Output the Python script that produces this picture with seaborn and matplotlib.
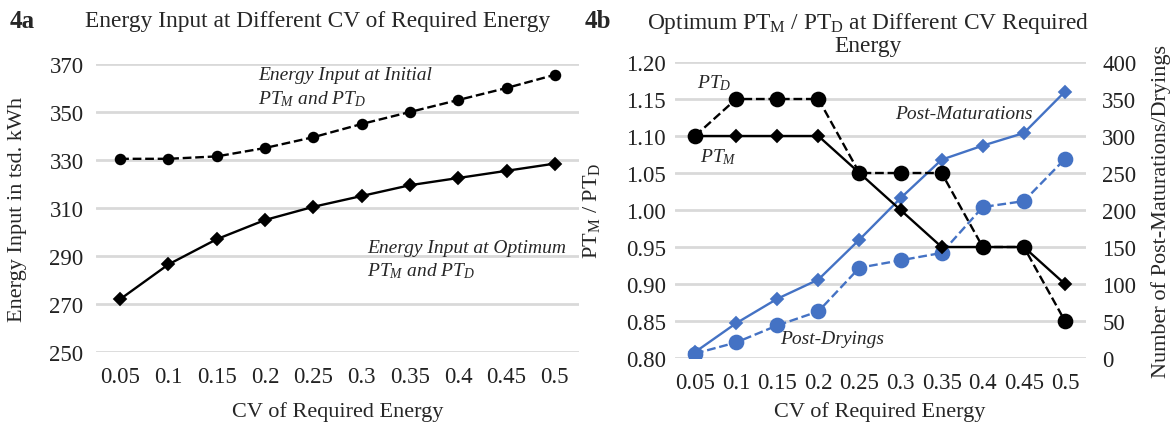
import numpy as np
import pandas as pd
import matplotlib
matplotlib.use("Agg")
import matplotlib.pyplot as plt
import seaborn as sns

cv_labels = ["0.05", "0.1", "0.15", "0.2", "0.25", "0.3", "0.35", "0.4", "0.45", "0.5"]
energy_initial = [330.5, 330.5, 331.5, 335.0, 339.5, 345.0, 350.0, 355.0, 360.0, 365.5]
energy_optimum = [272.0, 286.5, 297.0, 305.0, 310.5, 315.0, 319.5, 322.5, 325.5, 328.5]
pt_m = [1.10, 1.10, 1.10, 1.10, 1.05, 1.00, 0.95, 0.95, 0.95, 0.90]
pt_d = [1.10, 1.15, 1.15, 1.15, 1.05, 1.05, 1.05, 0.95, 0.95, 0.85]
post_maturations = [8, 47, 80, 106, 160, 216, 268, 287, 304, 360]
post_dryings = [6, 21, 44, 63, 122, 132, 142, 204, 212, 269]

sns.set_theme(style="white")
plt.rcParams["font.family"] = ["Liberation Serif", "DejaVu Serif"]
plt.rcParams["mathtext.fontset"] = "custom"
plt.rcParams["mathtext.rm"] = "Liberation Serif"
plt.rcParams["mathtext.it"] = "Liberation Serif:italic"
plt.rcParams["mathtext.bf"] = "Liberation Serif:bold"

BLUE = "#4472C4"
GRID = "#d9d9d9"
TICK_FS = 16.5
LBL_FS = 16
TITLE_FS = 16.8
ANN_FS = 14

fig = plt.figure(figsize=(11.73, 4.27), dpi=100)
W, H = 1173, 427
def rect(x0, x1, ytop, ybot):
    return [x0 / W, 1 - ybot / H, (x1 - x0) / W, (ybot - ytop) / H]

ax1 = fig.add_axes(rect(96, 579, 65, 353))
ax2 = fig.add_axes(rect(674.5, 1085.5, 63, 359))
ax3 = ax2.twinx()

df_a = pd.DataFrame({"cv": cv_labels, "initial": energy_initial, "optimum": energy_optimum})
sns.pointplot(data=df_a, x="cv", y="initial", ax=ax1, color="black", markers="o",
              linestyles="--", markersize=7, linewidth=1.7, zorder=3)
sns.pointplot(data=df_a, x="cv", y="optimum", ax=ax1, color="black", markers="D",
              linestyles="-", markersize=6.5, linewidth=1.7, zorder=3)

df_b = pd.DataFrame({"cv": cv_labels, "ptm": pt_m, "ptd": pt_d,
                     "pm": post_maturations, "pd": post_dryings})
sns.pointplot(data=df_b, x="cv", y="pm", ax=ax3, color=BLUE, markers="D",
              linestyles="-", markersize=6.5, linewidth=1.7)
sns.pointplot(data=df_b, x="cv", y="pd", ax=ax3, color=BLUE, markers="o",
              linestyles="--", markersize=10, linewidth=1.7)
sns.pointplot(data=df_b, x="cv", y="ptm", ax=ax2, color="black", markers="D",
              linestyles="-", markersize=6.5, linewidth=1.7)
sns.pointplot(data=df_b, x="cv", y="ptd", ax=ax2, color="black", markers="o",
              linestyles="--", markersize=10, linewidth=1.7)
ax2.set_zorder(ax3.get_zorder() + 1)
ax2.patch.set_visible(False)

for ax in (ax1, ax2, ax3):
    for s in ax.spines.values():
        s.set_visible(False)
    ax.tick_params(axis="both", length=0, labelsize=TICK_FS, colors="#222222")
    ax.set_xlim(-0.5, 9.5)

ax1.set_ylim(250, 370)
ax1.set_yticks(np.arange(250, 371, 20))
ax1.yaxis.grid(True, color=GRID, linewidth=2)
ax1.set_axisbelow(True)
ax1.tick_params(axis="x", pad=10)
ax1.tick_params(axis="y", pad=9)
ax1.set_xlabel("CV of Required Energy", fontsize=LBL_FS)
ax1.xaxis.set_label_coords(0.5, (353 - 402) / 288, transform=ax1.transAxes)
ax1.set_ylabel("Energy Input in tsd. kWh", fontsize=LBL_FS)
ax1.yaxis.set_label_coords((27 - 96) / 483, 0.5, transform=ax1.transAxes)

yt = np.arange(0.80, 1.201, 0.05)
ax2.set_ylim(0.80, 1.20)
ax2.set_yticks(yt)
ax2.set_yticklabels([f"{v:.2f}" for v in yt])
ax3.set_ylim(0, 400)
ax3.set_yticks(np.arange(0, 401, 50))
ax3.yaxis.grid(True, color=GRID, linewidth=2)
ax2.yaxis.grid(False)
ax2.tick_params(axis="x", pad=10)
ax2.tick_params(axis="y", pad=6)
ax3.tick_params(axis="y", pad=12)
ax2.set_xlabel("CV of Required Energy", fontsize=LBL_FS)
ax2.xaxis.set_label_coords(0.5, (359 - 402) / 296, transform=ax2.transAxes)
ax3.set_xlabel("")
ax2.set_ylabel(r"PT$_\mathrm{M}$ / PT$_\mathrm{D}$", fontsize=LBL_FS)
ax2.yaxis.set_label_coords((602 - 674.5) / 411, 0.5, transform=ax2.transAxes)
ax3.set_ylabel("Number of Post-Maturations/Dryings", fontsize=LBL_FS)
ax3.yaxis.set_label_coords((1151 - 674.5) / 411, 0.5, transform=ax3.transAxes)

ax1.text(2.85, 369.0, "Energy Input at Initial\n$PT_M$ and $PT_D$", fontsize=ANN_FS,
         style="italic", ha="left", va="top", linespacing=1.3)
ax1.text(5.11, 297.0, "Energy Input at Optimum\n$PT_M$ and $PT_D$", fontsize=ANN_FS,
         style="italic", ha="left", va="top", linespacing=1.3)

ax2.text(0.04, 1.173, "$PT_D$", fontsize=ANN_FS, ha="left", va="center")
ax2.text(0.12, 1.073, "$PT_M$", fontsize=ANN_FS, ha="left", va="center")
ax2.text(4.86, 1.131, "Post-Maturations", fontsize=ANN_FS, style="italic", ha="left", va="center")
ax2.text(2.07, 0.827, "Post-Dryings", fontsize=ANN_FS, style="italic", ha="left", va="center")

fig.text(10 / W, 1 - 22 / H, "4a", fontsize=18, fontweight="bold", ha="left", va="center")
fig.text(318 / W, 1 - 22 / H, "Energy Input at Different CV of Required Energy",
         fontsize=TITLE_FS, ha="center", va="center")
fig.text(585 / W, 1 - 22 / H, "4b", fontsize=18, fontweight="bold", ha="left", va="center")
fig.text(868 / W, 1 - 34 / H,
         "Optimum PT$_\\mathrm{M}$ / PT$_\\mathrm{D}$ at Different CV Required\nEnergy",
         fontsize=TITLE_FS, ha="center", va="center", linespacing=1.0)

fig.savefig("out.png", dpi=100, facecolor="white")
